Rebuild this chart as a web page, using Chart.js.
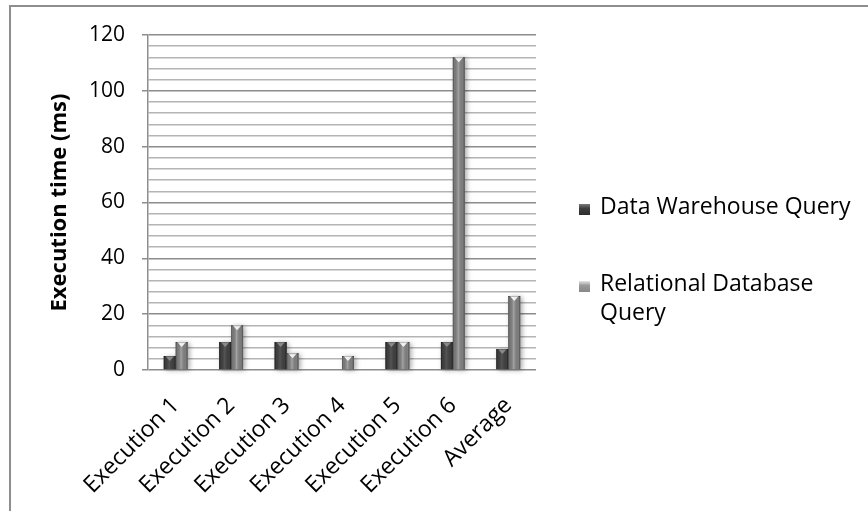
<!DOCTYPE html>
<html>
<head>
<meta charset="utf-8">
<script src="https://cdn.jsdelivr.net/npm/chart.js@4/dist/chart.umd.min.js"></script>
<style>
  html, body { margin: 0; padding: 0; background: #fff; }
  #wrap { position: relative; width: 868px; height: 511px; overflow: hidden; background: #fff; }
  #frame { position: absolute; left: 9px; top: 5px; width: 900px; height: 600px;
           border-left: 2px solid #8e8e8e; border-top: 2px solid #8e8e8e; box-sizing: border-box; }
  canvas { position: absolute; left: 0; top: 0; }
  .legend { position: absolute; left: 579px; font-family: "Open Sans", sans-serif; font-size: 23px;
            color: #000; line-height: 29px; }
  .legend .sw { position: absolute; left: 0; width: 11px; height: 11px; }
  .legend .tx { position: absolute; left: 21px; white-space: nowrap; }
</style>
</head>
<body>
<div id="wrap">
  <div id="frame"></div>
  <canvas id="c" width="868" height="511"></canvas>
  <div id="legend"></div>
</div>
<script>
// Query timings per run, in milliseconds
const categories = ["Execution 1", "Execution 2", "Execution 3", "Execution 4", "Execution 5", "Execution 6", "Average"];
const warehouseTimes = [5, 10, 10, 0, 10, 10, 7.5];
const relationalTimes = [10, 16, 6, 5, 10, 112, 26.5];
const seriesNames = ["Data Warehouse Query", ["Relational Database", "Query"]];
const yMax = 120;
const yMajorStep = 20;
const yMinorStep = 4;

const FONT = '"Open Sans", sans-serif';

// Shading per series: base fill, edge tone, highlight tone, cap tone
const looks = [
  { base: '#474747', edge: 'rgba(20,20,20,0.75)', mid: 'rgba(110,110,110,0.35)', cap: '#8a8a8a' },
  { base: '#8e8e8e', edge: 'rgba(70,70,70,0.7)', mid: 'rgba(190,190,190,0.45)', cap: '#f2f2f2' }
];

// Soft drop shadow beneath each column, then a cylindrical sheen and a bevelled cap on top
const barStyling = {
  id: 'barStyling',
  beforeDatasetsDraw(chart) {
    const ctx = chart.ctx;
    ctx.save();
    chart.data.datasets.forEach((ds, di) => {
      chart.getDatasetMeta(di).data.forEach(el => {
        const p = el.getProps(['x', 'y', 'base', 'width'], true);
        const h = p.base - p.y;
        if (h < 0.5) return;
        ctx.shadowColor = 'rgba(0,0,0,0.35)';
        ctx.shadowBlur = 5;
        ctx.shadowOffsetX = 2;
        ctx.shadowOffsetY = 1;
        ctx.fillStyle = '#777';
        ctx.fillRect(p.x - p.width / 2, p.y, p.width, h);
      });
    });
    ctx.restore();
  },
  afterDatasetsDraw(chart) {
    const ctx = chart.ctx;
    ctx.save();
    chart.data.datasets.forEach((ds, di) => {
      const look = looks[di];
      chart.getDatasetMeta(di).data.forEach(el => {
        const p = el.getProps(['x', 'y', 'base', 'width'], true);
        const h = p.base - p.y;
        if (h < 0.5) return;
        const l = p.x - p.width / 2, r = p.x + p.width / 2;
        const g = ctx.createLinearGradient(l, 0, r, 0);
        g.addColorStop(0, look.edge);
        g.addColorStop(0.12, 'rgba(0,0,0,0.15)');
        g.addColorStop(0.45, look.mid);
        g.addColorStop(0.85, 'rgba(0,0,0,0.1)');
        g.addColorStop(1, look.edge);
        ctx.fillStyle = g;
        ctx.fillRect(l, p.y, p.width, h);
        // bevelled cap
        const capH = Math.min(5, h);
        ctx.fillStyle = look.cap;
        ctx.beginPath();
        ctx.moveTo(l + 1.5, p.y);
        ctx.lineTo(r - 1.5, p.y);
        ctx.lineTo(p.x, p.y + capH);
        ctx.closePath();
        ctx.fill();
        ctx.fillStyle = 'rgba(0,0,0,0.25)';
        ctx.fillRect(l, p.y, p.width, 1);
      });
    });
    ctx.restore();
  }
};

const chart = new Chart(document.getElementById('c'), {
  type: 'bar',
  data: {
    labels: categories,
    datasets: [
      { label: "Data Warehouse Query", data: warehouseTimes, backgroundColor: looks[0].base,
        borderWidth: 0, categoryPercentage: 0.43, barPercentage: 1.0 },
      { label: "Relational Database Query", data: relationalTimes, backgroundColor: looks[1].base,
        borderWidth: 0, categoryPercentage: 0.43, barPercentage: 1.0 }
    ]
  },
  options: {
    responsive: false,
    animation: false,
    devicePixelRatio: 1,
    layout: { padding: { left: 0, right: 332, top: 35, bottom: 0 } },
    plugins: { legend: { display: false }, tooltip: { enabled: false } },
    scales: {
      x: {
        grid: { display: false, drawTicks: false },
        border: { display: false },
        ticks: {
          color: '#000', font: { family: FONT, size: 23 },
          minRotation: 45, maxRotation: 45, padding: 22, autoSkip: false
        },
        afterFit(scale) { scale.height = 141; }
      },
      y: {
        min: 0, max: yMax,
        border: { display: true, color: '#8e8e8e', width: 1.5 },
        grid: {
          color: c => (c.tick && c.tick.value % yMajorStep === 0) ? '#8c8c8c' : '#b4b4b4',
          tickColor: c => (c.tick && c.tick.value % yMajorStep === 0) ? '#8e8e8e' : 'rgba(0,0,0,0)',
          lineWidth: 1.5,
          tickLength: 6
        },
        ticks: {
          stepSize: yMinorStep,
          autoSkip: false,
          color: '#000', font: { family: FONT, size: 21 }, padding: 17,
          callback: v => (v % yMajorStep === 0 ? String(v) : '')
        },
        title: {
          display: true, text: 'Execution time (ms)', color: '#000',
          font: { family: FONT, size: 22, weight: 'bold' },
          padding: { top: 47, bottom: 0 }
        },
        afterFit(scale) { scale.width = 148; }
      }
    }
  },
  plugins: [barStyling]
});

// Legend beside the plot, second entry wraps onto two lines
const legendEl = document.getElementById('legend');
const legendTops = [191, 268];
seriesNames.forEach((name, i) => {
  const box = document.createElement('div');
  box.className = 'legend';
  box.style.top = legendTops[i] + 'px';
  const sw = document.createElement('div');
  sw.className = 'sw';
  sw.style.top = '13px';
  sw.style.background = i === 0
    ? 'linear-gradient(180deg,#7a7a7a 0%,#3e3e3e 40%,#2e2e2e 100%)'
    : 'linear-gradient(180deg,#e6e6e6 0%,#9a9a9a 40%,#888 100%)';
  const tx = document.createElement('div');
  tx.className = 'tx';
  tx.innerHTML = (Array.isArray(name) ? name : [name]).join('<br>');
  box.appendChild(sw);
  box.appendChild(tx);
  legendEl.appendChild(box);
});
</script>
</body>
</html>
